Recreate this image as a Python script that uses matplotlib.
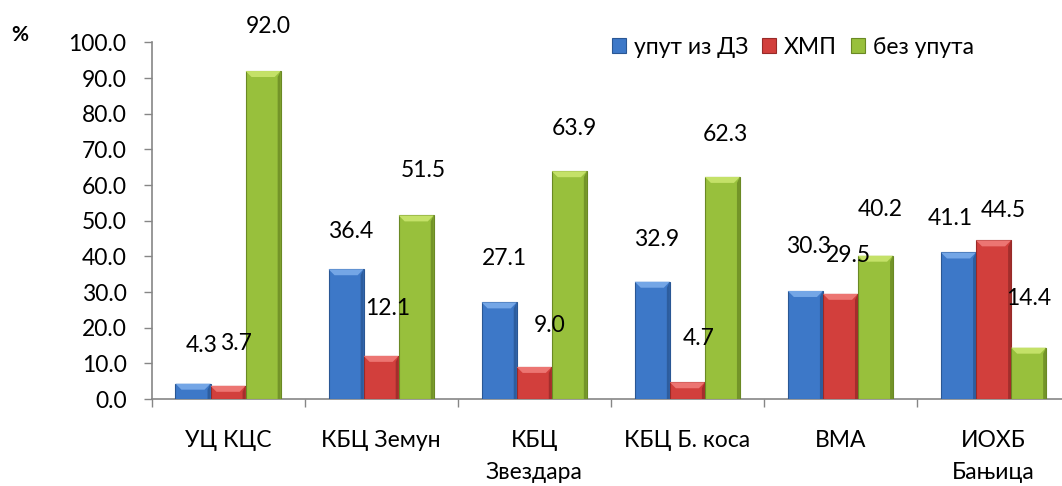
import numpy as np
import matplotlib
matplotlib.use('Agg')
import matplotlib.pyplot as plt

# du lieu
categories = ['УЦ КЦС', 'КБЦ Земун', 'КБЦ\nЗвездара', 'КБЦ Б. коса', 'ВМА', 'ИОХБ\nБањица']
series_names = ['упут из ДЗ', 'ХМП', 'без упута']
uput_dz = [4.3, 36.4, 27.1, 32.9, 30.3, 41.1]
hmp = [3.7, 12.1, 9.0, 4.7, 29.5, 44.5]
bez_uputa = [92.0, 51.5, 63.9, 62.3, 40.2, 14.4]

# label offsets (pixels) - labels were moved by hand in the original
label_offsets = [
    [(9, 38), (5, 38), (5, 44), (4, 42), (3, 44), (-8, 34)],
    [(8, 42), (7, 47), (15, 41), (11, 44), (8, 38), (10, 30)],
    [(5, 45), (7, 45), (5, 43), (3, 42), (5, 46), (0, 49)],
]

face_colors = ['#3d78c8', '#d23f3c', '#98c03c']
light_colors = ['#74a6e6', '#ec7572', '#c4e168']
dark_colors = ['#2a5794', '#982a28', '#6a8924']

FS = 16.5
plt.rcParams['font.family'] = ['Lato', 'DejaVu Sans']

fig = plt.figure(figsize=(10.62, 4.86), dpi=100)
ax = fig.add_axes([151.5 / 1062, (486 - 399) / 486, 918.6 / 1062, 356.5 / 486])

x = np.arange(len(categories))
w = 0.229
px_x = 1 / 153.1   # data units per pixel (x)
px_y = 1 / 3.565   # data units per pixel (y)
all_series = [uput_dz, hmp, bez_uputa]
for i, vals in enumerate(all_series):
    pos = x + (i - 1) * w
    bars = ax.bar(pos, vals, width=w, color=face_colors[i], edgecolor=dark_colors[i],
                  linewidth=0.8, label=series_names[i], zorder=3)
    # bevel look
    for b in bars:
        x0, x1 = b.get_x(), b.get_x() + b.get_width()
        h = b.get_height()
        bw = 6 * px_x
        bh = min(6 * px_y, h / 2)
        ax.fill([x0, x1, x1 - bw, x0 + bw], [h, h, h - bh, h - bh],
                color=light_colors[i], lw=0, zorder=4)
        ax.fill([x1 - 3 * px_x, x1, x1, x1 - 3 * px_x], [h - bh, h, 0, 0],
                color=dark_colors[i], lw=0, alpha=0.8, zorder=4)
    for j, v in enumerate(vals):
        dx, dy = label_offsets[i][j]
        ax.annotate(f'{v:.1f}', (pos[j], v), xytext=(dx, dy), textcoords='offset pixels',
                    ha='center', va='center', fontsize=FS, color='black',
                    annotation_clip=False, zorder=6)

ax.set_xlim(-0.5, len(categories) - 0.5)
ax.set_ylim(0, 100)
ax.set_yticks(np.arange(0, 101, 10))
ax.set_yticklabels([f'{v:.1f}' for v in np.arange(0, 101, 10)], fontsize=FS)

ax.set_xticks(np.arange(len(categories) + 1) - 0.5)
ax.set_xticklabels([])
ax.set_xticks(x, minor=True)
ax.set_xticklabels(categories, minor=True, fontsize=FS, linespacing=1.65, va='top')
ax.tick_params(axis='x', which='minor', length=0, pad=22)
ax.tick_params(axis='x', which='major', length=6, width=1, color='#868686', direction='out')
ax.tick_params(axis='y', length=6, width=1, color='#868686', pad=12)

for s in ['top', 'right']:
    ax.spines[s].set_visible(False)
for s in ['left', 'bottom']:
    ax.spines[s].set_color('#868686')
    ax.spines[s].set_linewidth(1.2)

fig.text(20 / 1062, 1 - 35 / 486, '%', fontsize=15, fontweight='bold', ha='center', va='center')

leg = fig.legend(loc='center left', bbox_to_anchor=(612 / 1062, 1 - 47 / 486), ncol=3,
                 frameon=False, fontsize=FS, handlelength=0.61, handleheight=0.61,
                 handletextpad=0.35, columnspacing=0.6, borderaxespad=0, borderpad=0)

fig.savefig('out.png', dpi=100)
